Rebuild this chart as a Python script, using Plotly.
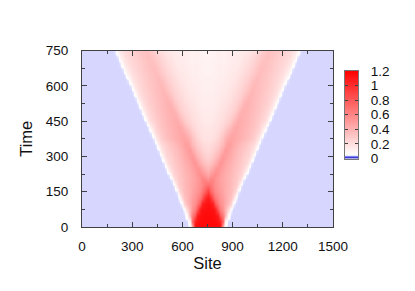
import numpy as np
import plotly.graph_objects as go

# Time levels and half-width site offsets (pattern is mirror symmetric about site 750)
times = list(range(0, 751, 25))
site_centre = 750
site_step = 15.333
background = 3

# Density x 100, columns run from the centre outward to the cone edge, rows from t=0 up
half_rows = [
    [116,116,116,116,116,112,40],
    [116,116,115,115,112,105,70,12],
    [115,115,114,112,106,80,62,42,8],
    [114,113,112,106,80,64,52,40,24,5],
    [112,110,104,80,65,56,50,43,36,25,5],
    [108,100,78,66,58,52,48,43,38,33,23,5],
    [92,78,66,58,53,50,46,42,38,35,30,21,4],
    [72,68,60,55,51,48,45,42,39,36,32,28,20,4],
    [56,60,60,54,50,47,44,42,39,36,33,30,26,19,4],
    [44,50,54,56,52,48,45,42,40,37,34,31,28,25,18,4],
    [36,40,45,50,54,50,47,44,41,38,35,32,30,27,24,17,4],
    [30,32,36,41,47,53,50,46,43,40,37,34,32,29,26,23,16,4],
    [25,27,30,34,39,45,52,49,45,42,39,36,33,31,28,25,22,16,4],
    [22,23,26,29,33,38,44,51,48,44,41,38,35,33,30,28,25,21,15,4],
    [20,21,23,25,28,32,37,43,49,47,43,40,38,35,33,30,27,25,21,15,4],
    [18,18,19,21,24,28,33,39,44,46,45,43,42,40,38,36,33,30,27,22,15,4],
    [17,17,18,19,21,24,28,33,38,43,45,44,42,41,39,37,35,32,29,26,22,15,4],
    [16,16,17,18,19,21,23,27,31,36,41,44,43,41,40,38,36,34,32,29,26,21,15,4],
    [15,15,16,17,18,19,21,23,26,30,35,40,43,42,40,39,37,35,33,31,28,25,21,15,4],
    [15,14,15,16,17,18,19,21,23,26,29,34,39,42,41,39,38,36,34,32,30,27,24,20,14,4],
    [14,14,14,15,16,17,18,19,21,23,25,28,33,38,41,40,38,37,35,33,31,29,26,23,20,14,4],
    [14,13,14,14,15,16,17,18,19,21,23,25,28,32,37,40,39,37,36,34,32,30,28,26,23,19,14,4],
    [13,13,13,14,14,15,16,16,18,19,21,23,25,28,32,36,39,38,36,35,33,31,29,27,25,22,19,14,4],
    [13,12,13,13,14,14,15,15,16,18,19,21,23,25,28,31,35,38,37,35,34,32,30,28,27,24,22,18,13,4],
    [12,12,12,13,13,14,14,15,15,17,18,19,21,23,25,28,31,34,37,36,34,33,31,30,28,26,24,21,18,13,4],
    [12,12,12,12,13,13,13,14,15,16,16,18,19,21,23,25,28,31,34,36,35,33,32,30,29,27,25,23,21,17,13,4],
    [11,11,12,12,12,13,12,14,14,15,16,16,18,19,21,23,25,28,30,33,35,34,32,31,29,28,26,24,22,20,17,12,4],
    [11,11,11,12,12,13,12,13,14,14,15,15,16,18,19,21,23,25,28,30,33,35,34,32,31,29,28,26,24,22,20,17,12,4],
    [11,11,11,11,12,12,12,12,13,14,14,14,15,16,18,19,21,23,25,28,30,32,34,33,31,30,28,27,25,24,22,20,16,12,4],
    [10,10,11,11,12,12,11,12,13,13,14,14,14,15,16,18,19,21,23,25,28,30,32,34,33,31,30,28,27,25,24,22,20,16,12,4],
    [10,10,11,11,12,12,11,12,13,13,14,13,14,14,15,15,16,18,19,21,23,26,29,32,33,32,31,30,28,27,25,24,22,20,16,12,4],
]

x_ticks = [0, 300, 600, 900, 1200, 1500]
y_ticks = [0, 150, 300, 450, 600, 750]
cbar_ticks = [0, 0.2, 0.4, 0.6, 0.8, 1, 1.2]
cbar_labels = ["0", "0.2", "0.4", "0.6", "0.8", "1", "1.2"]

n = 49
full = [r + [background] * (n + 1 - len(r)) for r in half_rows]
z = np.array([r[:0:-1] + r for r in full], dtype=float) / 100
sites = site_centre + site_step * np.arange(-n, n + 1)
ramp = np.arange(0, 1.2001, 0.01)

W, H = 415, 291
colorscale = [[0, "#0000c0"], [0.012, "#5555e6"], [0.025, "#d6d6ff"], [0.042, "#ffffff"], [1, "#ff0000"]]
ink = "#404040"
font = "Liberation Sans"

fig = go.Figure()
fig.add_trace(go.Heatmap(x=sites, y=times, z=z, zsmooth="best", coloraxis="coloraxis", hoverinfo="skip"))
fig.add_trace(go.Heatmap(x=[0, 1], y=ramp, z=[[v, v] for v in ramp], coloraxis="coloraxis",
                         xaxis="x2", yaxis="y2", hoverinfo="skip"))

axis_common = dict(showgrid=False, zeroline=False, showline=True, linecolor=ink, linewidth=1,
                   ticks="inside", ticklen=5, tickcolor=ink, tickwidth=1, mirror="ticks", automargin=False,
                   tickfont=dict(family=font, size=13.5, color="#111"))
fig.update_layout(
    width=W, height=H, margin=dict(l=0, r=0, t=0, b=0), paper_bgcolor="white", plot_bgcolor="white",
    showlegend=False,
    coloraxis=dict(colorscale=colorscale, cmin=0, cmax=1.2, showscale=False),
    xaxis=dict(domain=[82 / W, 333 / W], range=[0, 1500], tickvals=x_ticks, ticklabelstandoff=7,
               minor=dict(dtick=150, ticks="inside", ticklen=3, tickcolor=ink, tickwidth=1),
               title=dict(text="Site", font=dict(family=font, size=16.5, color="#111"), standoff=4),
               **axis_common),
    yaxis=dict(domain=[1 - 227 / H, 1 - 50.5 / H], range=[0, 750], tickvals=y_ticks, ticklabelstandoff=10,
               minor=dict(dtick=75, ticks="inside", ticklen=3, tickcolor=ink, tickwidth=1),
               title=dict(text="Time", font=dict(family=font, size=16.5, color="#111"), standoff=8),
               **axis_common),
    xaxis2=dict(domain=[345 / W, 358 / W], range=[0, 1], anchor="y2", showticklabels=False, ticks="",
                showgrid=False, zeroline=False, showline=True, linecolor="#777", mirror=True, automargin=False),
    yaxis2=dict(domain=[1 - 158.5 / H, 1 - 71 / H], range=[0, 1.2], anchor="x2", side="right",
                tickvals=cbar_ticks, ticktext=cbar_labels, ticks="inside", ticklen=3, tickcolor=ink,
                mirror="ticks", showgrid=False, zeroline=False, showline=True, linecolor="#777", automargin=False,
                ticklabelstandoff=9, tickfont=dict(family=font, size=13.5, color="#111")),
)
fig.write_html("out.html", config={"displayModeBar": False},
               post_script="document.body.style.margin='0';")
